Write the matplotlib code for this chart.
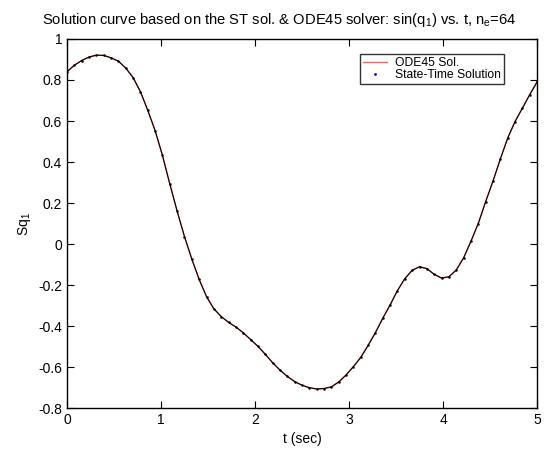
import numpy as np
import matplotlib
matplotlib.use("Agg")
import matplotlib.pyplot as plt

plt.rcParams['font.family'] = ['Liberation Sans', 'DejaVu Sans']
plt.rcParams['mathtext.fontset'] = 'custom'
plt.rcParams['mathtext.rm'] = 'Liberation Sans'
plt.rcParams['mathtext.it'] = 'Liberation Sans'

# 64 elements -> 65 nodes over 0..5 s
t_nodes = np.linspace(0, 5, 65)
sq1 = [0.840, 0.872, 0.895, 0.912, 0.921, 0.920, 0.908, 0.892, 0.858, 0.812,
       0.743, 0.652, 0.553, 0.432, 0.293, 0.160, 0.036, -0.074, -0.173, -0.257,
       -0.316, -0.354, -0.382, -0.405, -0.433, -0.466, -0.499, -0.538, -0.579, -0.615,
       -0.646, -0.671, -0.689, -0.701, -0.707, -0.705, -0.697, -0.673, -0.639, -0.598,
       -0.553, -0.495, -0.432, -0.362, -0.297, -0.227, -0.169, -0.128, -0.111, -0.120,
       -0.148, -0.166, -0.160, -0.127, -0.068, 0.013, 0.100, 0.206, 0.306, 0.414,
       0.516, 0.597, 0.662, 0.728, 0.790]

xticks = [0, 1, 2, 3, 4, 5]
yticks = [-0.8, -0.6, -0.4, -0.2, 0, 0.2, 0.4, 0.6, 0.8, 1]

fig = plt.figure(figsize=(5.5, 4.54), dpi=100)
ax = fig.add_axes([0.1218, 0.1013, 0.8546, 0.8128])

ax.plot(t_nodes, sq1, color='#ff6060', lw=1.0, label='ODE45 Sol.')
ax.plot(t_nodes, sq1, color='black', lw=0.8)
ax.plot(t_nodes, sq1, ls='none', marker='.', ms=1.6, color='black')
# legend proxy for the ST points
ax.plot([], [], ls='none', marker='.', ms=2.0, color='blue', label='State-Time Solution')

ax.set_xlim(0, 5)
ax.set_ylim(-0.8, 1)
ax.set_xticks(xticks)
ax.set_xticklabels([str(v) for v in xticks])
ax.set_yticks(yticks)
ax.set_yticklabels(['-0.8', '-0.6', '-0.4', '-0.2', '0', '0.2', '0.4', '0.6', '0.8', '1'])
ax.tick_params(direction='in', top=True, right=True, labelsize=10, length=5, width=0.8)
for s in ax.spines.values():
    s.set_linewidth(1.0)

ax.set_xlabel('t (sec)', fontsize=10, labelpad=4)
ax.set_ylabel('Sq$_1$', fontsize=10, labelpad=4)
ax.set_title('Solution curve based on the ST sol. & ODE45 solver: sin(q$_1$) vs. t, n$_e$=64',
             fontsize=10.6, pad=11, x=0.451)

leg = ax.legend(loc='upper left', bbox_to_anchor=(0.623, 0.959), fontsize=8.7,
                frameon=True, fancybox=False, borderpad=0.25, labelspacing=0.0,
                handlelength=2.0, handletextpad=0.7, borderaxespad=0)
leg.get_frame().set_edgecolor('black')
leg.get_frame().set_linewidth(1.0)

fig.savefig('out.png', dpi=100)
